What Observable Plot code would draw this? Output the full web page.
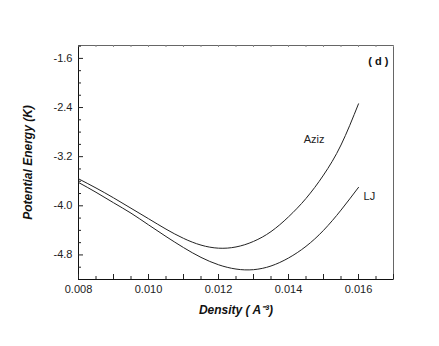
<!DOCTYPE html>
<html><head><meta charset="utf-8">
<script src="https://cdn.jsdelivr.net/npm/d3@7"></script>
<script src="https://cdn.jsdelivr.net/npm/@observablehq/plot@0.6"></script>
<style>body{margin:0;background:#fff}</style>
</head><body><div id="chart"></div>
<script>
const density = [0.008, 0.0085, 0.009, 0.0095, 0.010, 0.0105, 0.011, 0.0115, 0.012, 0.0125, 0.013, 0.0135, 0.014, 0.0145, 0.015, 0.0155, 0.016];
const aziz = [-3.56, -3.71, -3.87, -4.04, -4.21, -4.38, -4.53, -4.64, -4.69, -4.67, -4.58, -4.42, -4.18, -3.88, -3.50, -3.01, -2.34];
const lj = [-3.62, -3.78, -3.95, -4.12, -4.31, -4.50, -4.68, -4.84, -4.96, -5.03, -5.04, -4.98, -4.85, -4.66, -4.40, -4.07, -3.70];
const seriesNames = ["Aziz", "LJ"];
const xLabelTicks = [0.008, 0.010, 0.012, 0.014, 0.016];
const xMajorTicks = [0.008, 0.009, 0.010, 0.011, 0.012, 0.013, 0.014, 0.015, 0.016, 0.017];
const xMinorTicks = [0.0085, 0.0095, 0.0105, 0.0115, 0.0125, 0.0135, 0.0145, 0.0155, 0.0165];
const yLabelTicks = [-1.6, -2.4, -3.2, -4.0, -4.8];
const yMinorTicks = [-1.4, -1.8, -2.0, -2.2, -2.6, -2.8, -3.0, -3.4, -3.6, -3.8, -4.2, -4.4, -4.6, -5.0];
const xTitle = "Density ( A\u207B\u00B3)";
const yTitle = "Potential Energy (K)";
const panelTag = "( d )";

const rows = [];
density.forEach((x, i) => {
  rows.push({series: seriesNames[0], x, y: aziz[i]});
  rows.push({series: seriesNames[1], x, y: lj[i]});
});

const W = 439, H = 346, mL = 78, mR = 46, mT = 45, mB = 67;
const pw = W - mL - mR, ph = H - mT - mB;
const font = "'Liberation Sans', Arial, Helvetica, sans-serif";

const chart = Plot.plot({
  width: W, height: H,
  marginLeft: mL, marginRight: mR, marginTop: mT, marginBottom: mB,
  x: {domain: [0.008, 0.017]},
  y: {domain: [-5.2, -1.39]},
  style: {fontFamily: font, fontSize: "11px", color: "#222", background: "#fff"},
  marks: [
    Plot.frame({stroke: "#666"}),
    Plot.ruleX([0.008], {stroke: "#111"}),
    Plot.ruleY([-5.2], {stroke: "#111"}),
    Plot.tickX(xMajorTicks, {x: d => d, insetTop: ph - 5, stroke: "#222"}),
    Plot.tickX(xMinorTicks, {x: d => d, insetTop: ph - 3, stroke: "#222"}),
    Plot.tickX(xMajorTicks.concat(xMinorTicks), {x: d => d, insetBottom: ph - 2, stroke: "#888"}),
    Plot.tickY(yLabelTicks, {y: d => d, insetRight: pw - 5, stroke: "#222"}),
    Plot.tickY(yMinorTicks, {y: d => d, insetRight: pw - 3, stroke: "#222"}),
    Plot.axisX({ticks: xLabelTicks, tickSize: 0, tickPadding: 6, tickFormat: d => d.toFixed(3), label: null, fontSize: 11}),
    Plot.axisY({ticks: yLabelTicks, tickSize: 0, tickPadding: 6, tickFormat: d => d.toFixed(1), label: null, fontSize: 11}),
    Plot.line(rows, {x: "x", y: "y", z: "series", stroke: "#222", strokeWidth: 1, curve: "natural"}),
    Plot.text([seriesNames[0]], {x: 0.01473, y: -2.92, text: d => d, fontSize: 11, fill: "#222"}),
    Plot.text([seriesNames[1]], {x: 0.01631, y: -3.85, text: d => d, fontSize: 11, fill: "#222"}),
    Plot.text([panelTag], {frameAnchor: "top-right", dx: -5, dy: 12, text: d => d, textAnchor: "end", fontSize: 11, fontWeight: "bold", fill: "#111"}),
    Plot.text([xTitle], {frameAnchor: "bottom", dy: 34, text: d => d, fontSize: 12, fontWeight: "bold", fontStyle: "italic", fill: "#111"}),
    Plot.text([yTitle], {frameAnchor: "left", dx: -50, rotate: -90, textAnchor: "middle", text: d => d, fontSize: 12, fontWeight: "bold", fontStyle: "italic", fill: "#111"})
  ]
});
document.getElementById("chart").appendChild(chart);
</script>
</body></html>
